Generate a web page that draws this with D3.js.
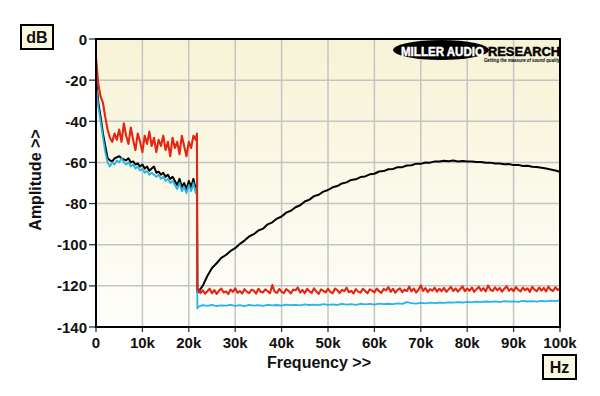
<!DOCTYPE html>
<html><head><meta charset="utf-8">
<script src="https://cdn.jsdelivr.net/npm/d3@7"></script>
<style>body{margin:0;background:#fff}svg{display:block;font-family:"Liberation Sans",Arial,sans-serif}</style>
</head><body><svg id="c" width="600" height="396"></svg>
<script>
// ---------- data ----------
const xTicks = [0,10000,20000,30000,40000,50000,60000,70000,80000,90000,100000];
const xTickLabels = ["0","10k","20k","30k","40k","50k","60k","70k","80k","90k","100k"];
const yTicks = [0,-20,-40,-60,-80,-100,-120,-140];
const yTickLabels = ["0","-20","-40","-60","-80","-100","-120","-140"];

const lowRangeHz = [0, 21500];      // low band sampled every 0.5 kHz
const edgeHz = [21750, 21850];      // filter cut-off edge
const highRangeHz = [22000, 100000];// high band

const redLow = [-9,-22,-28,-31,-38,-44,-48,-50,-46,-49,
  -44,-50,-41,-47,-51,-43,-49,-54,-46,-50,
  -55,-47,-51,-45,-52,-48,-55,-49,-52,-47,
  -54,-50,-57,-48,-53,-50,-56,-47,-52,-57,
  -50,-53,-47,-49];
const redEdge = [-46,-122];
const redHigh = [-121.5,-123.5,-122.2,-123.8,-122.6,-121.4,-123.6,-122.1,-123.9,-122.4,
  -121.3,-123.2,-122.7,-124.0,-121.8,-122.9,-121.2,-123.4,-122.5,-123.7,
  -121.6,-122.8,-123.5,-121.9,-122.3,-123.8,-121.4,-122.9,-123.2,-121.7,
  -122.6,-123.6,-119.6,-122.8,-123.4,-121.5,-122.9,-123.5,-121.6,-122.4,
  -123.7,-121.8,-122.2,-120.8,-123.3,-122.0,-123.6,-121.4,-122.7,-123.4,
  -121.2,-122.8,-123.9,-121.7,-122.4,-123.2,-121.5,-122.9,-123.6,-121.3,
  -122.1,-123.5,-121.9,-122.6,-120.9,-123.1,-122.4,-123.7,-121.6,-122.8,
  -123.3,-121.4,-122.5,-123.6,-121.7,-122.3,-123.2,-121.3,-122.6,-123.4,
  -121.5,-122.2,-120.6,-122.9,-121.4,-123.3,-122.0,-121.2,-123.1,-121.8,
  -122.5,-120.4,-122.7,-121.3,-123.2,-121.9,-119.8,-122.4,-121.1,-123.0,
  -121.6,-122.3,-120.9,-122.8,-121.4,-122.6,-121.0,-122.9,-121.7,-120.6,
  -122.5,-121.2,-122.8,-121.5,-120.3,-122.6,-121.3,-122.4,-120.8,-122.9,
  -121.6,-120.5,-122.3,-121.1,-122.7,-119.9,-121.8,-122.5,-120.7,-122.2,
  -121.0,-122.8,-121.4,-120.2,-122.4,-121.3,-122.6,-120.6,-121.9,-122.7,
  -120.9,-122.1,-121.2,-122.9,-120.5,-121.8,-122.6,-120.8,-122.3,-121.0,
  -122.7,-120.4,-121.9,-122.5,-120.7,-122.0,-121.3];

const blueLow = [-22,-33,-40,-48,-55,-60,-62,-60,-61,-59,
  -60,-58,-60,-61,-60,-62,-61,-63,-62,-64,
  -63,-65,-64,-66,-65,-66,-67,-66,-68,-67,
  -69,-68,-70,-69,-71,-73,-70,-74,-72,-75,
  -71,-74,-70,-75];
const blueEdge = [-72,-131];
const blueHigh = [-130.2,-129.4,-129.7,-129.3,-129.8,-129.5,-129.6,-129.2,-129.7,-129.4,
  -129.8,-129.3,-129.6,-129.4,-129.7,-129.2,-129.5,-129.3,-129.6,-129.1,
  -129.4,-129.2,-129.5,-129.0,-129.3,-129.1,-129.4,-128.9,-129.2,-129.0,
  -129.3,-128.8,-129.1,-128.9,-129.2,-128.7,-129.0,-128.8,-129.1,-128.6,
  -128.9,-128.7,-128.9,-128.5,-128.8,-127.9,-128.4,-128.6,-128.3,-128.5,
  -128.2,-128.4,-128.1,-128.3,-128.0,-128.2,-127.9,-128.1,-127.8,-128.0,
  -127.7,-127.9,-127.6,-127.8,-127.5,-127.9,-127.4,-127.7,-127.5,-127.8,
  -127.3,-127.6,-127.4,-127.7,-127.3,-127.5,-127.2,-127.4,-127.1];

const blackLow = [-19,-31,-38,-46,-52,-58,-59,-59.5,-58,-57.5,
  -57,-58,-58.5,-59,-58,-60,-59.5,-61,-60.5,-62,
  -61,-63,-62,-64,-63,-62,-65,-64.5,-66,-65,
  -67,-66,-68,-67,-69,-71,-68,-72,-70,-73,
  -69,-72,-68,-73];
const blackEdge = [-71,-123];
const blackHigh = [-123,-120,-115.2,-111.3,-109,-106.4,-105,-103,-101.7,-99.6,
  -98,-96,-94.9,-93.1,-92.2,-90.1,-89.1,-87.3,-86.3,-84.4,
  -83.5,-81.8,-80.8,-79,-78.1,-76.4,-75.7,-74.2,-73.4,-72.1,
  -71.5,-70.2,-69.7,-68.5,-68.2,-67.1,-66.8,-65.8,-65.5,-64.4,
  -64.2,-63.3,-63.2,-62.3,-62.3,-61.5,-61.4,-60.6,-60.7,-60.0,
  -60.1,-59.5,-59.6,-59.2,-59.4,-59.1,-59.5,-59.3,-59.6,-59.5,
  -59.8,-59.8,-60.2,-60.1,-60.5,-60.5,-60.9,-60.8,-61.3,-61.2,
  -61.7,-61.6,-62.1,-62.2,-62.6,-63.0,-63.4,-63.9,-64.6];

// ---------- build ----------
function build(low, edge, high) {
  const pts = [];
  const lstep = (lowRangeHz[1]-lowRangeHz[0])/(low.length-1);
  low.forEach((v,i)=>pts.push([lowRangeHz[0]+i*lstep, v]));
  edge.forEach((v,i)=>pts.push([edgeHz[i], v]));
  const hstep = (highRangeHz[1]-highRangeHz[0])/(high.length-1);
  high.forEach((v,i)=>pts.push([highRangeHz[0]+i*hstep, v]));
  return pts;
}
const series = [
  {name:"black", color:"#000000", w:2,   data:build(blackLow,blackEdge,blackHigh)},
  {name:"blue",  color:"#27b4e6", w:1.8, data:build(blueLow,blueEdge,blueHigh)},
  {name:"red",   color:"#e62412", w:2.1, data:build(redLow,redEdge,redHigh)}
];

const svg = d3.select("#c");
const L=96, R=560, T=39, B=327;
const x = d3.scaleLinear().domain([0,100000]).range([L,R]);
const y = d3.scaleLinear().domain([-140,0]).range([B,T]);

const defs = svg.append("defs");
const g = defs.append("linearGradient").attr("id","bg").attr("x1",0).attr("y1",0).attr("x2",0).attr("y2",1);
g.append("stop").attr("offset","0%").attr("stop-color","#f7f3d6");
g.append("stop").attr("offset","100%").attr("stop-color","#fefefa");
defs.append("clipPath").attr("id","clip").append("rect").attr("x",L).attr("y",T).attr("width",R-L).attr("height",B-T);

svg.append("rect").attr("x",L).attr("y",T).attr("width",R-L).attr("height",B-T).attr("fill","url(#bg)");

// grid
svg.append("g").selectAll("line").data(xTicks.slice(1,-1)).join("line")
  .attr("x1",d=>x(d)).attr("x2",d=>x(d)).attr("y1",T).attr("y2",B)
  .attr("stroke","#c4c4c4").attr("stroke-width",1.5);
svg.append("g").selectAll("line").data(yTicks.slice(1,-1)).join("line")
  .attr("y1",d=>y(d)).attr("y2",d=>y(d)).attr("x1",L).attr("x2",R)
  .attr("stroke","#c4c4c4").attr("stroke-width",1.5);

// logo
const logo = svg.append("g");
logo.append("ellipse").attr("cx",441).attr("cy",50).attr("rx",48).attr("ry",10).attr("fill","#000");
logo.append("text").attr("x",401).attr("y",55.5).attr("fill","#fff").attr("font-size",13).attr("font-weight",900)
  .attr("stroke","#fff").attr("stroke-width",0.5)
  .attr("textLength",83).attr("lengthAdjust","spacingAndGlyphs").text("MILLER AUDIO");
logo.append("text").attr("x",488).attr("y",55.5).attr("fill","#000").attr("font-size",13).attr("font-weight",900)
  .attr("stroke","#000").attr("stroke-width",0.5)
  .attr("textLength",72).attr("lengthAdjust","spacingAndGlyphs").text("RESEARCH");
logo.append("text").attr("x",484).attr("y",62).attr("fill","#000").attr("font-size",5).attr("font-weight",700).attr("font-style","italic")
  .attr("textLength",76).attr("lengthAdjust","spacingAndGlyphs").text("Getting the measure of sound quality");

// lines
const line = d3.line().x(d=>x(d[0])).y(d=>y(d[1]));
svg.append("g").attr("clip-path","url(#clip)").selectAll("path").data(series).join("path")
  .attr("d",d=>line(d.data)).attr("fill","none").attr("stroke",d=>d.color)
  .attr("stroke-width",d=>d.w).attr("stroke-linejoin","round");

// frame
svg.append("rect").attr("x",L).attr("y",T).attr("width",R-L).attr("height",B-T)
  .attr("fill","none").attr("stroke","#000").attr("stroke-width",2);

// y axis ticks & labels
const yg = svg.append("g");
yg.selectAll("line").data(yTicks).join("line")
  .attr("x1",89).attr("x2",95).attr("y1",d=>y(d)).attr("y2",d=>y(d)).attr("stroke","#333").attr("stroke-width",1.3);
yg.selectAll("text").data(yTicks).join("text")
  .attr("x",87).attr("y",d=>y(d)+5.5).attr("text-anchor","end")
  .attr("font-size",15).attr("font-weight",700).attr("fill","#111")
  .text((d,i)=>yTickLabels[i]);

// x axis ticks & labels
const xg = svg.append("g");
xg.selectAll("line").data(xTicks).join("line")
  .attr("x1",d=>x(d)).attr("x2",d=>x(d)).attr("y1",328).attr("y2",332).attr("stroke","#333").attr("stroke-width",1.3);
xg.selectAll("text").data(xTicks).join("text")
  .attr("x",d=>x(d)).attr("y",347.5).attr("text-anchor","middle")
  .attr("font-size",15).attr("font-weight",700).attr("fill","#111")
  .text((d,i)=>xTickLabels[i]);

// axis titles
svg.append("text").attr("x",319).attr("y",367.5).attr("text-anchor","middle")
  .attr("font-size",16).attr("font-weight",700).attr("fill","#111").text("Frequency >>");
svg.append("text").attr("transform","translate(41,180) rotate(-90)").attr("text-anchor","middle")
  .attr("font-size",16).attr("font-weight",700).attr("fill","#111").text("Amplitude >>");

// unit boxes
function unitBox(bx,by,w,h,label){
  svg.append("rect").attr("x",bx).attr("y",by).attr("width",w).attr("height",h)
    .attr("fill","#fbf8e2").attr("stroke","#000").attr("stroke-width",2);
  svg.append("text").attr("x",bx+w/2).attr("y",by+h/2+6).attr("text-anchor","middle")
    .attr("font-size",16).attr("font-weight",700).attr("fill","#111").text(label);
}
unitBox(21,25,32,24,"dB");
unitBox(543,355,33,24,"Hz");
</script></body></html>
